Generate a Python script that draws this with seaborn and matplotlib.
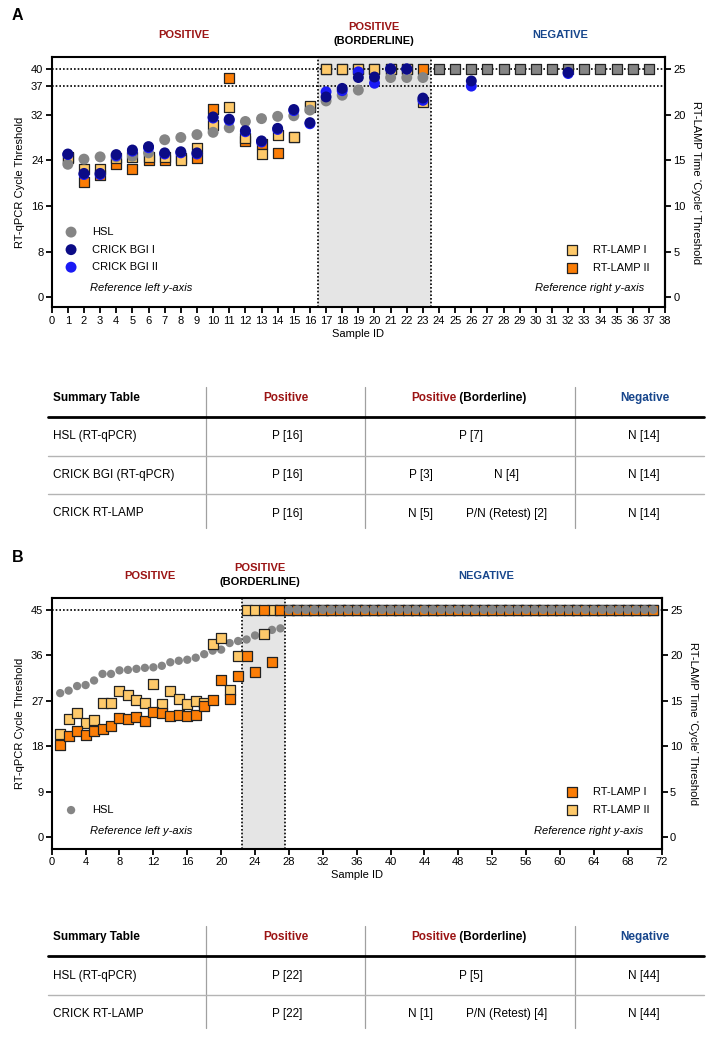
import numpy as np
import matplotlib
matplotlib.use("Agg")
import matplotlib.pyplot as plt
from matplotlib.legend import Legend
import seaborn as sns

sns.set_theme(style="ticks", rc={"axes.edgecolor": "black", "xtick.color": "black",
                                 "ytick.color": "black", "text.color": "black",
                                 "axes.labelcolor": "black", "axes.linewidth": 1.5})
plt.rcParams['font.family'] = ['Liberation Sans', 'DejaVu Sans']

nan = np.nan

# colours
GRAY = "#858585"
NAVY = "#0b0b86"
BLUE = "#1a1af5"
YELLOW = "#fec96a"
ORANGE = "#fb7d06"
RED = "#9b1414"
DBLUE = "#17468c"
SHADE = "#e5e5e5"

# ---------------- Panel A data (samples 1..37) ----------------
a_sample = list(range(1, 38))
# RT-qPCR Ct values (left axis)
a_hsl = [23.3, 24.2, 24.6, 24.6, 24.7, 25.3, 27.6, 28.0, 28.5, 28.9, 29.7, 30.8, 31.3, 31.7, 31.8, 32.8,
         34.4, 35.4, 36.3, 38.4, 38.5, 38.5, 38.5] + [nan] * 14
a_bgi1 = [25.1, 21.7, 21.7, 25.0, 25.8, 26.4, 25.3, 25.5, 25.3, 31.6, 31.2, 29.2, 27.4, 29.6, 32.9, 30.6,
          35.1, 36.6, 38.5, 38.6, 40.0, 40.0, 34.9, nan, nan, 37.9, nan, nan, nan, nan, nan, 39.4,
          nan, nan, nan, nan, nan]
a_bgi2 = [25.0, 21.5, 21.5, 24.8, 25.6, 26.2, 25.1, 25.3, 25.1, 31.4, 31.0, 29.0, 27.2, 29.4, 32.7, 30.4,
          36.0, 36.2, 39.5, 37.5, 40.0, 40.0, 34.5, nan, nan, 37.0, nan, nan, nan, nan, nan, 39.2,
          nan, nan, nan, nan, nan]
# RT-LAMP time 'cycle' values (right axis, minutes)
a_lamp1 = [15.4, 14.0, 14.0, 15.2, 15.4, 15.4, 15.4, 15.0, 16.3, 18.9, 20.8, 17.4, 15.7, 17.8, 17.5, 20.9,
           25, 25, 25, 25, 25, 25, 21.4] + [nan] * 14
a_lamp2 = [15.3, 12.6, 13.4, 14.6, 14.0, 15.0, 15.0, 15.3, 15.3, 20.6, 24.0, 17.1, 16.8, 15.8, 17.5, 20.8,
           25, 25, 25, 25, 25, 25, 25] + [nan] * 14
a_neg_sample = list(range(24, 38))
a_neg_lamp = [25.0] * 14

# ---------------- Panel B data (samples 1..71) ----------------
b_sample = list(range(1, 72))
b_hsl = [28.5, 29.0, 29.9, 30.1, 31.0, 32.3, 32.3, 33.0, 33.1, 33.3, 33.5, 33.6, 33.9, 34.6, 34.9, 35.1,
         35.5, 36.2, 36.9, 37.1, 38.4, 38.8, 39.1, 39.9, 40.2, 41.0, 41.3] + [45.0] * 44
b_lamp1 = [10.1, 11.1, 11.7, 11.2, 11.7, 11.9, 12.2, 13.1, 13.0, 13.2, 12.8, 13.8, 13.6, 13.3, 13.4, 13.3,
           13.4, 14.4, 15.1, 17.3, 15.2, 17.7, 19.9, 18.1, 25.0, 19.2, 25.0] + [25.0] * 44
b_lamp2 = [11.3, 13.0, 13.7, 12.6, 12.9, 14.7, 14.8, 16.1, 15.6, 15.1, 14.8, 16.8, 14.6, 16.1, 15.2, 14.6,
           15.0, 14.7, 21.2, 21.9, 16.2, 19.9, 25.0, 25.0, 22.3, 25.0, 25.0] + [25.0] * 44

# ---------------- table contents ----------------
tabA_rows = ["HSL (RT-qPCR)", "CRICK BGI (RT-qPCR)", "CRICK RT-LAMP"]
tabA_pos = ["P [16]", "P [16]", "P [16]"]
tabA_border = [["P [7]"], ["P [3]", "N [4]"], ["N [5]", "P/N (Retest) [2]"]]
tabA_neg = ["N [14]", "N [14]", "N [14]"]

tabB_rows = ["HSL (RT-qPCR)", "CRICK RT-LAMP"]
tabB_pos = ["P [22]", "P [22]"]
tabB_border = [["P [5]"], ["N [1]", "P/N (Retest) [4]"]]
tabB_neg = ["N [44]", "N [44]"]

W, H = 714, 1037
fig = plt.figure(figsize=(W / 100, H / 100), dpi=100)

# overlay in pixel coordinates for headings, notes and tables (on top, no patch)
ov = fig.add_axes([0, 0, 1, 1], zorder=10)
ov.set_xlim(0, W)
ov.set_ylim(H, 0)
ov.axis("off")

DOT = (0, (1, 1.2))


def dots(ax, x, y, color, marker, size, label=None, z=3, edge=True):
    sns.scatterplot(x=x, y=y, ax=ax, color=color, marker=marker, s=size,
                    edgecolor="#222222" if edge else "none", linewidth=0.9 if edge else 0,
                    label=label, zorder=z, legend=False)


def style_axes(ax, xmax, xstep, yticks, ylim, top_ct, xlim_right):
    ax.set_xlim(0, xlim_right)
    ax.set_ylim(*ylim)
    ax.set_xticks(np.arange(0, xmax + 1, xstep))
    ax.set_yticks(yticks)
    ax.tick_params(labelsize=8, width=1.3, length=4, pad=2)
    ax.set_xlabel("Sample ID", fontsize=8, labelpad=2)
    ax.set_ylabel("RT-qPCR Cycle Threshold", fontsize=8, labelpad=4)
    sec = ax.secondary_yaxis("right", functions=(lambda c: c * 25 / top_ct, lambda t: t * top_ct / 25))
    sec.set_yticks([0, 5, 10, 15, 20, 25])
    sec.tick_params(labelsize=8, width=1.3, length=4, pad=2)
    sec.spines["right"].set_linewidth(1.5)
    sec.set_ylabel("RT-LAMP Time \u2018Cycle\u2019 Threshold", fontsize=8, rotation=270, labelpad=11)
    for sp in ax.spines.values():
        sp.set_linewidth(1.5)


def legend_at(ax, labels, x, y):
    h, l = ax.get_legend_handles_labels()
    hd = dict(zip(l, h))
    leg = Legend(ax, [hd[k] for k in labels], labels, loc="upper left", bbox_to_anchor=(x, y),
                 bbox_transform=ov.transData, frameon=False, borderpad=0, borderaxespad=0,
                 handlelength=1.0, handletextpad=1.4, labelspacing=0.68, fontsize=8)
    ax.add_artist(leg)


# ================= Panel A =================
axA = fig.add_axes([51.7 / W, 1 - 307.5 / H, 613.3 / W, 250.5 / H])
axA.axvspan(16.5, 23.5, color=SHADE, lw=0, zorder=0)
for yv in (40, 37):
    axA.axhline(yv, color="black", ls=DOT, lw=1.2, zorder=1)
for xv in (16.5, 23.5):
    axA.axvline(xv, color="black", ls=DOT, lw=1.2, zorder=1)

ctA = lambda t: [v * 40 / 25 for v in t]
dots(axA, a_sample, ctA(a_lamp2), ORANGE, "s", 60, "RT-LAMP II", z=3)
dots(axA, a_sample, ctA(a_lamp1), YELLOW, "s", 60, "RT-LAMP I", z=3.5)
dots(axA, a_neg_sample, ctA(a_neg_lamp), GRAY, "s", 60, None, z=3.6)
dots(axA, a_sample, a_hsl, GRAY, "o", 62, "HSL", z=4, edge=False)
dots(axA, a_sample, a_bgi2, BLUE, "o", 62, "CRICK BGI II", z=4.5, edge=False)
dots(axA, a_sample, a_bgi1, NAVY, "o", 62, "CRICK BGI I", z=5, edge=False)

style_axes(axA, 38, 1, [0, 8, 16, 24, 32, 37, 40], (-1.8, 42.1), 40, 38)
legend_at(axA, ["HSL", "CRICK BGI I", "CRICK BGI II"], 65.5, 227)
legend_at(axA, ["RT-LAMP I", "RT-LAMP II"], 566.5, 245)
ov.text(90, 288, "Reference left y-axis", fontsize=8, style="italic", va="center")
ov.text(644, 288, "Reference right y-axis", fontsize=8, style="italic", va="center", ha="right")

# ================= Panel B =================
axB = fig.add_axes([51.7 / W, 1 - 848.5 / H, 610 / W, 250.5 / H])
axB.axvspan(22.5, 27.5, color=SHADE, lw=0, zorder=0)
axB.axhline(45, color="black", ls=DOT, lw=1.2, zorder=1)
for xv in (22.5, 27.5):
    axB.axvline(xv, color="black", ls=DOT, lw=1.2, zorder=1)

ctB = lambda t: [v * 45 / 25 for v in t]
dots(axB, b_sample[:27], b_hsl[:27], GRAY, "o", 36, "HSL", z=2, edge=False)
dots(axB, b_sample, ctB(b_lamp2), YELLOW, "s", 42, "RT-LAMP II", z=3)
dots(axB, b_sample, ctB(b_lamp1), ORANGE, "s", 42, "RT-LAMP I", z=3.5)
dots(axB, b_sample[27:], b_hsl[27:], GRAY, "o", 40, None, z=4, edge=False)

style_axes(axB, 72, 4, [0, 9, 18, 27, 36, 45], (-2.2, 47.3), 45, 72)
legend_at(axB, ["HSL"], 65.5, 805)
legend_at(axB, ["RT-LAMP I", "RT-LAMP II"], 566.5, 787)
ov.text(90, 831, "Reference left y-axis", fontsize=8, style="italic", va="center")
ov.text(643, 831, "Reference right y-axis", fontsize=8, style="italic", va="center", ha="right")

# ================= headings =================
def headings(dy, x_pos, x_bord, x_neg):
    ov.text(x_pos, 35 + dy, "POSITIVE", color=RED, fontsize=8, fontweight="bold", ha="center", va="center")
    ov.text(x_bord, 27 + dy, "POSITIVE", color=RED, fontsize=8, fontweight="bold", ha="center", va="center")
    ov.text(x_bord, 41 + dy, "(BORDERLINE)", color="black", fontsize=8, fontweight="bold", ha="center", va="center")
    ov.text(x_neg, 35 + dy, "NEGATIVE", color=DBLUE, fontsize=8, fontweight="bold", ha="center", va="center")


ov.text(12, 16, "A", fontsize=11.5, fontweight="bold", va="center")
headings(0, 184, 374, 560)
ov.text(12, 557, "B", fontsize=11.5, fontweight="bold", va="center")
headings(541, 150, 260, 486)


# ================= tables =================
def draw_table(y0, rows, pos, border, neg):
    row_y = [y0 + 38.5 * (i + 1) for i in range(len(rows))]
    bottom = row_y[-1] + 14
    for xv in (206, 365, 575):
        ov.plot([xv, xv], [y0 - 11, bottom], color="#a0a0a0", lw=0.9)
    ov.plot([48, 704], [y0 + 19, y0 + 19], color="black", lw=2.0)
    for i in range(len(rows) - 1):
        ys = (row_y[i] + row_y[i + 1]) / 2
        ov.plot([48, 704], [ys, ys], color="#b4b4b4", lw=1.0)
    fs = 8.5
    ov.text(53, y0, "Summary Table", fontsize=fs, fontweight="bold", va="center")
    ov.text(286, y0, "Positive", fontsize=fs, fontweight="bold", color=RED, ha="center", va="center")
    t1 = ov.text(456, y0, "Positive", fontsize=fs, fontweight="bold", color=RED, ha="right", va="center")
    ov.annotate(" (Borderline)", xy=(1, 0), xycoords=t1, va="bottom", ha="left", fontsize=fs,
                fontweight="bold", color="black")
    ov.text(645, y0, "Negative", fontsize=fs, fontweight="bold", color=DBLUE, ha="center", va="center")
    for i, yy in enumerate(row_y):
        ov.text(53, yy, rows[i], fontsize=fs, va="center")
        ov.text(287, yy, pos[i], fontsize=fs, ha="center", va="center")
        cells = border[i]
        if len(cells) == 1:
            ov.text(471, yy, cells[0], fontsize=fs, ha="center", va="center")
        else:
            ov.text(421, yy, cells[0], fontsize=fs, ha="center", va="center")
            ov.text(507, yy, cells[1], fontsize=fs, ha="center", va="center")
        ov.text(644, yy, neg[i], fontsize=fs, ha="center", va="center")


draw_table(398, tabA_rows, tabA_pos, tabA_border, tabA_neg)
draw_table(937, tabB_rows, tabB_pos, tabB_border, tabB_neg)

fig.savefig("out.png", dpi=100)
